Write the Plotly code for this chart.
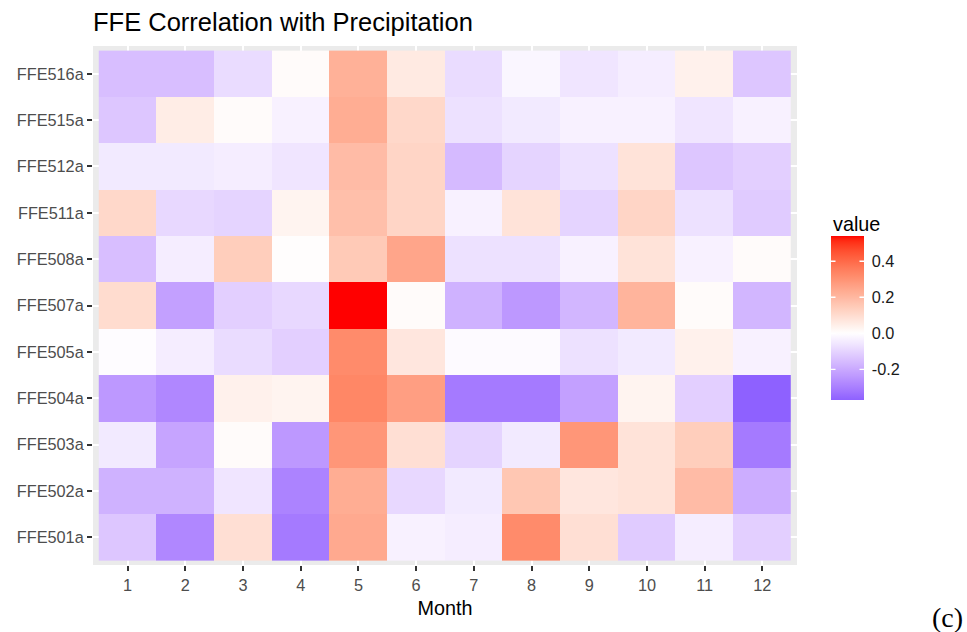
import numpy as np
import plotly.graph_objects as go

# Months on the x axis, stations on the y axis (bottom to top)
months = list(range(1, 13))
stations = ["FFE501a", "FFE502a", "FFE503a", "FFE504a", "FFE505a", "FFE507a",
            "FFE508a", "FFE511a", "FFE512a", "FFE515a", "FFE516a"]

# Correlation of each station's FFE with monthly precipitation
ffe501a = [-0.13, -0.28, 0.09, -0.31, 0.24, -0.03, -0.04, 0.32, 0.09, -0.12, -0.04, -0.11]
ffe502a = [-0.18, -0.18, -0.06, -0.29, 0.23, -0.09, -0.05, 0.16, 0.07, 0.08, 0.19, -0.19]
ffe503a = [-0.05, -0.21, 0.01, -0.24, 0.29, 0.09, -0.10, -0.05, 0.29, 0.08, 0.14, -0.31]
ffe504a = [-0.24, -0.28, 0.04, 0.03, 0.33, 0.27, -0.31, -0.31, -0.22, 0.03, -0.11, -0.37]
ffe505a = [-0.005, -0.04, -0.08, -0.11, 0.32, 0.07, -0.01, -0.01, -0.07, -0.05, 0.04, -0.03]
ffe507a = [0.10, -0.22, -0.11, -0.09, 0.54, 0.01, -0.18, -0.24, -0.17, 0.21, 0.01, -0.17]
ffe508a = [-0.15, -0.04, 0.14, 0.0, 0.15, 0.25, -0.07, -0.07, -0.03, 0.08, -0.03, 0.01]
ffe511a = [0.11, -0.09, -0.10, 0.03, 0.18, 0.12, -0.03, 0.08, -0.10, 0.12, -0.07, -0.12]
ffe512a = [-0.05, -0.05, -0.04, -0.06, 0.19, 0.12, -0.16, -0.10, -0.07, 0.08, -0.13, -0.11]
ffe515a = [-0.13, 0.05, 0.01, -0.03, 0.23, 0.11, -0.07, -0.05, -0.03, -0.03, -0.06, -0.03]
ffe516a = [-0.15, -0.15, -0.08, 0.01, 0.22, 0.06, -0.08, -0.02, -0.06, -0.04, 0.04, -0.13]

z = [ffe501a, ffe502a, ffe503a, ffe504a, ffe505a, ffe507a,
     ffe508a, ffe511a, ffe512a, ffe515a, ffe516a]

legend_ticks = [-0.2, 0.0, 0.2, 0.4]


# --- diverging blue-white-red palette interpolated in CIE Lab ---
def hex_to_rgb(h):
    h = h.lstrip("#")
    return [int(h[i:i + 2], 16) / 255 for i in (0, 2, 4)]


def rgb_to_lab(rgb):
    lin = [c / 12.92 if c <= 0.04045 else ((c + 0.055) / 1.055) ** 2.4 for c in rgb]
    r, g, b = lin
    x = (0.4124 * r + 0.3576 * g + 0.1805 * b) / 0.95047
    y = (0.2126 * r + 0.7152 * g + 0.0722 * b) / 1.0
    zz = (0.0193 * r + 0.1192 * g + 0.9505 * b) / 1.08883

    def f(t):
        return t ** (1 / 3) if t > 0.008856 else 7.787 * t + 16 / 116

    fx, fy, fz = f(x), f(y), f(zz)
    return [116 * fy - 16, 500 * (fx - fy), 200 * (fy - fz)]


def lab_to_rgb(lab):
    L, a, b = lab
    fy = (L + 16) / 116
    fx = fy + a / 500
    fz = fy - b / 200

    def finv(t):
        return t ** 3 if t ** 3 > 0.008856 else (t - 16 / 116) / 7.787

    x, y, zz = finv(fx) * 0.95047, finv(fy), finv(fz) * 1.08883
    r = 3.2406 * x - 1.5372 * y - 0.4986 * zz
    g = -0.9689 * x + 1.8758 * y + 0.0415 * zz
    bl = 0.0557 * x - 0.2040 * y + 1.0570 * zz
    out = []
    for c in (r, g, bl):
        c = 12.92 * c if c <= 0.0031308 else 1.055 * c ** (1 / 2.4) - 0.055
        out.append(min(max(c, 0), 1))
    return out


white_lab = rgb_to_lab(hex_to_rgb("#FFFFFF"))
red_lab = rgb_to_lab(hex_to_rgb("#FF0000"))
blue_lab = rgb_to_lab(hex_to_rgb("#0000FF"))

zmin = float(np.min(z))
zmax = float(np.max(z))
half = max(abs(zmin), abs(zmax))

colorscale = []
for s in np.linspace(0, 1, 81):
    v = zmin + s * (zmax - zmin)
    t = min(abs(v) / half, 1.0)
    end = red_lab if v > 0 else blue_lab
    lab = [w + t * (e - w) for w, e in zip(white_lab, end)]
    r, g, b = lab_to_rgb(lab)
    colorscale.append([float(s), f"rgb({round(r*255)},{round(g*255)},{round(b*255)})"])

# --- figure geometry (pixels) ---
W, H = 967, 632
ml, mr, mt, mb = 93, 170, 46, 67
pw, ph = W - ml - mr, H - mt - mb
bar_left, bar_top, bar_w, bar_len = 831, 236, 33, 164
bar_cy = bar_top + bar_len / 2

font = "Liberation Sans, Arial, sans-serif"
tick_size = 16.3

fig = go.Figure(
    go.Heatmap(
        x=months,
        y=stations,
        z=z,
        zmin=zmin,
        zmax=zmax,
        colorscale=colorscale,
        xgap=0,
        ygap=0,
        colorbar=dict(
            x=(bar_left - ml) / pw,
            xanchor="left",
            xpad=0,
            y=1 - (bar_cy - mt) / ph,
            yanchor="middle",
            ypad=0,
            thickness=bar_w,
            thicknessmode="pixels",
            len=bar_len,
            lenmode="pixels",
            outlinewidth=0,
            tickvals=legend_ticks,
            ticktext=[f"{v:.1f}" for v in legend_ticks],
            ticks="outside",
            ticklen=5,
            tickwidth=1,
            tickcolor="rgba(0,0,0,0)",
            tickfont=dict(family=font, size=tick_size, color="#1a1a1a"),
        ),
    )
)

annotations = [
    dict(text="value", xref="paper", yref="paper",
         x=(bar_left - ml) / pw, y=1 - (224 - mt) / ph,
         xanchor="left", yanchor="middle", showarrow=False,
         font=dict(family=font, size=19.8, color="#000000")),
    dict(text="(c)", xref="paper", yref="paper",
         x=(965 - ml) / pw, y=1 - (617 - mt) / ph,
         xanchor="right", yanchor="middle", showarrow=False,
         font=dict(family="Liberation Serif, Times New Roman, serif",
                   size=28, color="#000000")),
]

# white tick marks on both edges of the legend bar
x_left = (bar_left - ml) / pw
x_right = (bar_left + bar_w - ml) / pw
for v in legend_ticks:
    yp = 1 - (bar_top + bar_len * (zmax - v) / (zmax - zmin) - mt) / ph
    for xa, dx in ((x_left, 6), (x_right, -6)):
        annotations.append(dict(
            text="", xref="paper", yref="paper", x=xa, y=yp,
            showarrow=True, arrowhead=0, arrowwidth=1.3, arrowcolor="white",
            axref="pixel", ayref="pixel", ax=dx, ay=0,
            standoff=0, startstandoff=0,
        ))

fig.update_layout(
    width=W,
    height=H,
    margin=dict(l=ml, r=mr, t=mt, b=mb),
    paper_bgcolor="white",
    plot_bgcolor="#EBEBEB",
    font=dict(family=font),
    title=dict(
        text="FFE Correlation with Precipitation",
        x=0,
        xref="paper",
        xanchor="left",
        y=1 - 22 / H,
        yref="container",
        yanchor="middle",
        font=dict(family=font, size=25.5, color="#000000"),
    ),
    xaxis=dict(
        range=[0.4, 12.6],
        tickmode="array",
        tickvals=months,
        ticktext=[str(m) for m in months],
        showgrid=True,
        gridcolor="white",
        gridwidth=1.5,
        zeroline=False,
        ticks="outside",
        ticklen=5,
        tickwidth=1.5,
        tickcolor="#333333",
        tickfont=dict(family=font, size=tick_size, color="#4D4D4D"),
        title=dict(text="Month", standoff=8,
                   font=dict(family=font, size=19.8, color="#000000")),
        fixedrange=True,
    ),
    yaxis=dict(
        type="category",
        categoryorder="array",
        categoryarray=stations,
        range=[-0.6, len(stations) - 0.4],
        showgrid=True,
        gridcolor="white",
        gridwidth=1.5,
        zeroline=False,
        ticks="outside",
        ticklen=5,
        tickwidth=1.5,
        tickcolor="#333333",
        tickfont=dict(family=font, size=tick_size, color="#4D4D4D"),
        fixedrange=True,
    ),
    annotations=annotations,
)

fig.write_html("out.html")
